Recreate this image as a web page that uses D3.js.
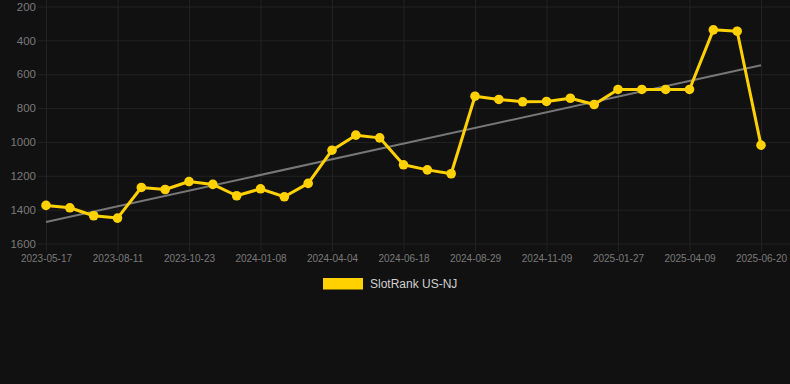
<!DOCTYPE html>
<html>
<head>
<meta charset="utf-8">
<script src="https://cdn.jsdelivr.net/npm/d3@7"></script>
<style>
  html, body { margin: 0; padding: 0; background: #111111; }
  svg { display: block; font-family: "Helvetica Neue", Helvetica, Arial, sans-serif; }
</style>
</head>
<body>
<div id="chart"></div>
<script>
// dates of each measurement (category axis)
const dates = [
    "2023-05-17", "2023-06-15", "2023-07-14", "2023-08-11", "2023-09-05", "2023-09-29",
    "2023-10-23", "2023-11-18", "2023-12-13", "2024-01-08", "2024-02-06", "2024-03-06",
    "2024-04-04", "2024-04-28", "2024-05-23", "2024-06-18", "2024-07-12", "2024-08-05",
    "2024-08-29", "2024-09-22", "2024-10-16", "2024-11-09", "2024-12-05", "2025-01-01",
    "2025-01-27", "2025-02-20", "2025-03-16", "2025-04-09", "2025-05-03", "2025-05-27",
    "2025-06-20"
];

// rank values (lower is better, axis is reversed)
const ranks = [
    1375, 1389, 1436, 1450, 1269, 1281,
    1234, 1251, 1318, 1277, 1324, 1245,
    1049, 960, 976, 1135, 1165, 1188,
    730, 749, 763, 761, 742, 779,
    690, 690, 690, 690, 338, 346,
    1019
];

const xTickLabels = [
    "2023-05-17", "2023-08-11", "2023-10-23", "2024-01-08", "2024-04-04", "2024-06-18",
    "2024-08-29", "2024-11-09", "2025-01-27", "2025-04-09", "2025-06-20"
];
const yTickValues = [200, 400, 600, 800, 1000, 1200, 1400, 1600];
const seriesName = "SlotRank US-NJ";

const width = 790;
const height = 384;
const plotLeft = 46;
const plotRight = 761;
const gridRight = 790;
const plotTop = 6.5;
const plotBottom = 243.5;

const lineColor = "#ffd100";
const gridColor = "#222222";
const tickColor = "#7a7a7a";

const svg = d3.select("#chart").append("svg")
    .attr("width", width)
    .attr("height", height)
    .attr("viewBox", [0, 0, width, height]);

svg.append("rect")
    .attr("width", width)
    .attr("height", height)
    .attr("fill", "#111111");

const x = d3.scalePoint()
    .domain(dates)
    .range([plotLeft, plotRight]);

const y = d3.scaleLinear()
    .domain([200, 1600])
    .range([plotTop, plotBottom]);

// horizontal grid + y labels
const yAxis = svg.append("g")
    .attr("transform", `translate(${plotLeft},0)`)
    .call(d3.axisLeft(y).tickValues(yTickValues).tickSize(8).tickPadding(2).tickFormat(d3.format("d")))
    .call(g => g.select(".domain").remove())
    .call(g => g.selectAll(".tick line").attr("stroke", gridColor))
    .call(g => g.selectAll(".tick line").clone()
        .attr("x1", 0)
        .attr("x2", gridRight - plotLeft)
        .attr("stroke", gridColor))
    .call(g => g.selectAll(".tick text")
        .attr("fill", tickColor)
        .attr("font-size", "11.5px")
        .attr("font-family", null));

// vertical grid + x labels
svg.append("g")
    .attr("transform", `translate(0,${plotBottom})`)
    .call(d3.axisBottom(x).tickValues(xTickLabels).tickSize(8).tickPadding(3))
    .call(g => g.select(".domain").remove())
    .call(g => g.selectAll(".tick line").attr("stroke", gridColor))
    .call(g => g.selectAll(".tick line").clone()
        .attr("y1", 0)
        .attr("y2", plotTop - plotBottom - 6.5)
        .attr("stroke", gridColor))
    .call(g => g.selectAll(".tick text")
        .attr("fill", tickColor)
        .attr("font-size", "10px")
        .attr("font-family", null));

// linear trend (least squares over category index)
const n = ranks.length;
const meanI = d3.mean(ranks, (d, i) => i);
const meanV = d3.mean(ranks);
const slope = d3.sum(ranks, (d, i) => (i - meanI) * (d - meanV)) / d3.sum(ranks, (d, i) => (i - meanI) ** 2);
const intercept = meanV - slope * meanI;
const trend = [0, n - 1].map(i => ({ date: dates[i], value: intercept + slope * i }));

const line = d3.line()
    .x(d => x(d.date))
    .y(d => y(d.value));

svg.append("path")
    .datum(trend)
    .attr("fill", "none")
    .attr("stroke", "#777777")
    .attr("stroke-width", 2)
    .attr("d", line);

const points = dates.map((date, i) => ({ date, value: ranks[i] }));

svg.append("path")
    .datum(points)
    .attr("fill", "none")
    .attr("stroke", lineColor)
    .attr("stroke-width", 3)
    .attr("stroke-linejoin", "round")
    .attr("d", line);

svg.append("g")
    .selectAll("circle")
    .data(points)
    .join("circle")
    .attr("cx", d => x(d.date))
    .attr("cy", d => y(d.value))
    .attr("r", 4.8)
    .attr("fill", lineColor);

// legend
const legend = svg.append("g").attr("transform", "translate(323,278)");
legend.append("rect")
    .attr("width", 40)
    .attr("height", 11.5)
    .attr("fill", lineColor);
legend.append("text")
    .attr("x", 47)
    .attr("y", 6)
    .attr("dy", "0.35em")
    .attr("fill", "#d0d0d0")
    .attr("font-size", "12px")
    .text(seriesName);
</script>
</body>
</html>
